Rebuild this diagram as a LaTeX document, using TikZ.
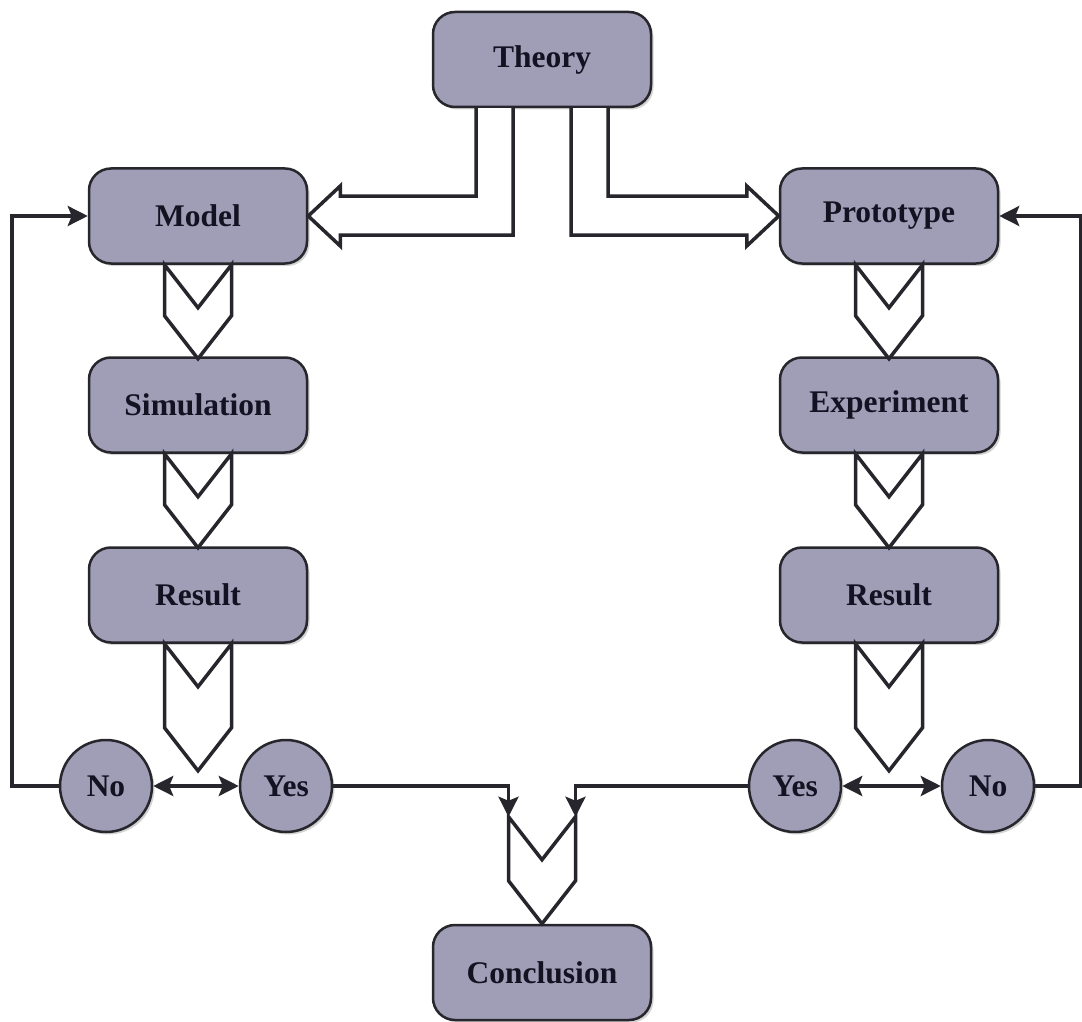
\documentclass[tikz,border=0pt]{standalone}
\usepackage{fontspec}
\setmainfont{Liberation Serif}
\usepackage{tikz}
\usetikzlibrary{positioning, arrows.meta, calc, shadows}
\usepackage{xcolor}
\definecolor{boxfill}{RGB}{160,157,182}
\definecolor{boxline}{RGB}{38,38,44}
\definecolor{boxtext}{RGB}{18,18,34}

\begin{document}
\begin{tikzpicture}[
        x=1pt, y=-1pt,
        every node/.style={font=\bfseries\fontsize{31.5}{36}\selectfont},
        block/.style={rectangle, rounded corners=22pt, draw=boxline, line width=2.5pt,
          fill=boxfill, text=boxtext, minimum width=218pt, minimum height=95pt,
          drop shadow={shadow xshift=2.5pt, shadow yshift=-2.5pt, opacity=0.35}},
        answer/.style={circle, draw=boxline, line width=2.5pt, fill=boxfill, text=boxtext,
          minimum size=92pt, inner sep=0pt,
          drop shadow={shadow xshift=2.5pt, shadow yshift=-2.5pt, opacity=0.35}},
        flow/.style={line width=3.5pt, draw=boxline,
          >={Stealth[length=20pt, width=20pt, inset=4pt]}, ->},
        twoway/.style={flow, <->},
        hollow/.style={line width=3.5pt, draw=boxline, fill=white, line join=miter},
        pics/chevron/.style={code={
          \draw[hollow] (-33.5,0) -- (0,43) -- (33.5,0) -- (33.5,#1) -- (0,#1+43)
            -- (-33.5,#1) -- cycle;
          \coordinate (-tl) at (-33.5,0);
          \coordinate (-tr) at (33.5,0);
        }}
      ]
      \useasboundingbox (0,0) rectangle (1082,1022);

      \node[block] (theory) at (542, 59.5) {Theory};
      \node[block] (model)  at (198, 216)  {Model};
      \node[block] (proto)  at (889, 216)  {Prototype};
      \node[block] (simul)  at (198, 405)  {Simulation};
      \node[block] (exper)  at (889, 405)  {Experiment};
      \node[block] (resL)   at (198, 595)  {Result};
      \node[block] (resR)   at (889, 595)  {Result};
      \node[answer] (noL)   at (106, 786)  {No};
      \node[answer] (yesL)  at (286, 786)  {Yes};
      \node[answer] (yesR)  at (795, 786)  {Yes};
      \node[answer] (noR)   at (988, 786)  {No};
      \node[block] (concl)  at (542, 972.5) {Conclusion};

      \draw[hollow] ($(theory.south)+(-66,0)$) |- ($(model.east)+(32,-20)$) -- ++(0,-10)
        -- (model.east) -- ++(32,30) -- ++(0,-11) -| ($(theory.south)+(-29,0)$);
      \draw[hollow] ($(theory.south)+(66,0)$) |- ($(proto.west)+(-32,-20)$) -- ++(0,-10)
        -- (proto.west) -- ++(-32,30) -- ++(0,-11) -| ($(theory.south)+(29,0)$);

      \pic at (model.south) {chevron=51};
      \pic at (simul.south) {chevron=51};
      \pic at (proto.south) {chevron=51};
      \pic at (exper.south) {chevron=51};
      \pic at (resL.south) {chevron=84};
      \pic at (resR.south) {chevron=84};
      \pic (cc) at ($(concl.north)+(0,-107)$) {chevron=64};

      \draw[twoway] (noL) -- (yesL);
      \draw[twoway] (yesR) -- (noR);
      \draw[flow] (noL.west) -- ++(-47,0) |- (model.west);
      \draw[flow] (noR.east) -- ++(45,0) |- (proto.east);
      \draw[flow] (yesL.east) -| (cc-tl);
      \draw[flow] (yesR.west) -| (cc-tr);
    \end{tikzpicture}
\end{document}
